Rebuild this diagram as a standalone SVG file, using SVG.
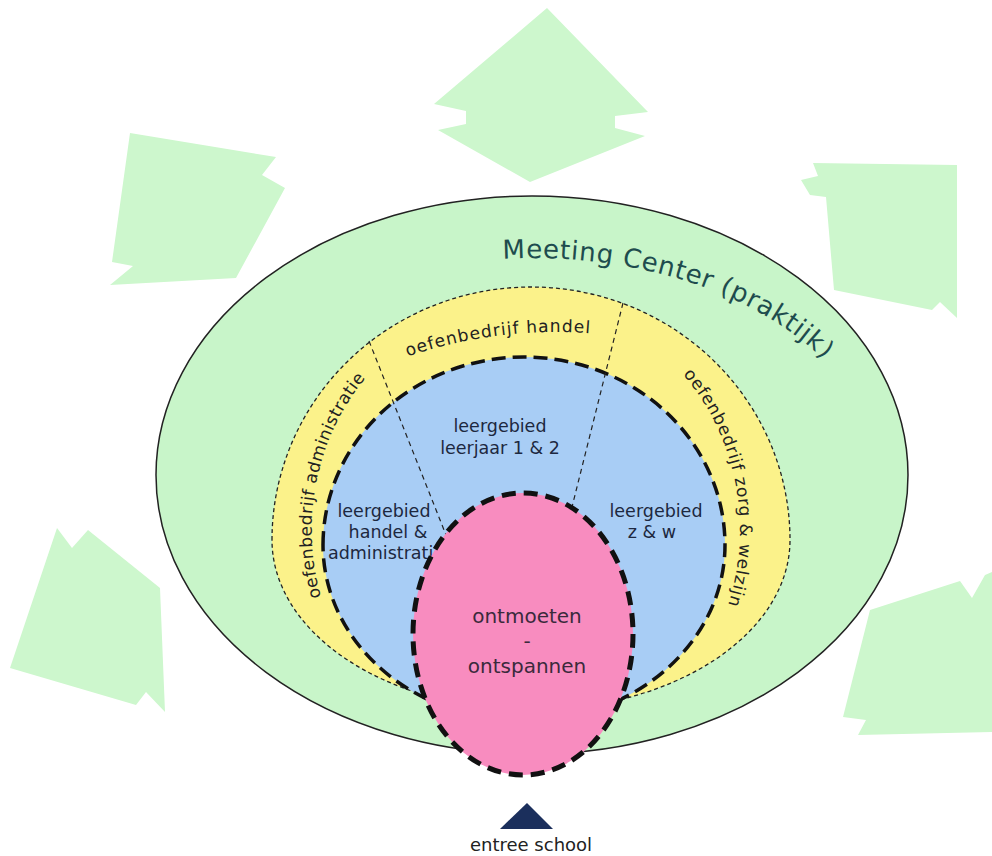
<svg xmlns="http://www.w3.org/2000/svg" width="992" height="856" viewBox="0 0 992 856">
<style>
.deco{fill:#cdf7cd;stroke:none}
.t{font-family:"DejaVu Sans","Liberation Sans",sans-serif;fill:#1d2840;text-anchor:middle}
.lbl{font-size:17.5px}
.band{font-size:17px;fill:#222}
.title{font-family:"DejaVu Sans","Liberation Sans",sans-serif;font-size:26px;fill:#1e4c4e}
.div{stroke:#222;stroke-width:1.2;stroke-dasharray:5 4;fill:none}
</style>
<defs>
<path id="pTitle" d="M 503 258.8 A 345 219 0 0 1 877 477"/>
<path id="pTop" d="M 330 391.4 A 456 456 0 0 1 780 391.4"/>
<path id="pLeft" d="M 321 597 A 214 229 0 0 1 526 301"/>
<path id="pRight" d="M 683 374.5 A 214 229 0 0 1 526 759"/>
</defs>
<rect width="992" height="856" fill="#ffffff"/>
<g id="decorations">
<polygon class="deco" points="547,8 648,112 615,116 615,128 645,136 530,182 438,130 466,124 466,111 434,104"/>
<polygon class="deco" points="130,133 276,157 262,175 285,188 236,278 110,285 133,266 112,262"/>
<polygon class="deco" points="818,176 813,163 957,165 957,318 940,302 932,310 834,290 826,197 810,195 801,180"/>
<polygon class="deco" points="57,528 72,548 88,530 160,588 165,712 146,692 136,705 10,668"/>
<polygon class="deco" points="870,610 960,581 972,598 985,575 992,572 992,732 858,735 866,720 843,717"/>
</g>
<g id="meeting-center">
<ellipse cx="532" cy="475" rx="376" ry="279" fill="#c8f5c9" stroke="#222" stroke-width="1.5"/>
<text class="title"><textPath href="#pTitle" textLength="345" lengthAdjust="spacing">Meeting Center (praktijk)</textPath></text>
</g>
<g id="oefenbedrijven">
<path d="M 272 540 A 259 253 0 0 1 790 540 A 259 170 0 0 1 531 710 A 259 170 0 0 1 272 540 Z" fill="#fbf28a" stroke="#222" stroke-width="1.3" stroke-dasharray="4 3"/>
</g>
<g id="leergebieden">
<path d="M 323 545 A 201 188 0 0 1 725 545 A 201 176 0 0 1 524 721 A 201 176 0 0 1 323 545 Z" fill="#a8cdf5" stroke="#111" stroke-width="3.5" stroke-dasharray="14 7"/>
</g>
<g id="connectors">
<line class="div" x1="369" y1="341" x2="448" y2="540"/>
<line class="div" x1="623" y1="303" x2="570" y2="515"/>
</g>
<g id="band-labels">
<text class="t band" style="text-anchor:start"><textPath href="#pTop" startOffset="85" textLength="185" lengthAdjust="spacing">oefenbedrijf handel</textPath></text>
<text class="t band" style="text-anchor:start"><textPath href="#pLeft" textLength="232" lengthAdjust="spacing">oefenbedrijf administratie</textPath></text>
<text class="t band" style="text-anchor:start"><textPath href="#pRight" textLength="245" lengthAdjust="spacing">oefenbedrijf zorg &amp; welzijn</textPath></text>
</g>
<g id="leergebied-jaar">
<text class="t lbl" x="500" y="432">leergebied</text>
<text class="t lbl" x="500" y="454">leerjaar 1 &amp; 2</text>
</g>
<g id="leergebied-handel">
<text class="t lbl" x="384" y="517">leergebied</text>
<text class="t lbl" x="388" y="538">handel &amp;</text>
<text class="t lbl" x="386" y="559">administratie</text>
</g>
<g id="leergebied-zw">
<text class="t lbl" x="656" y="517">leergebied</text>
<text class="t lbl" x="652" y="538">z &amp; w</text>
</g>
<g id="ontmoeten">
<ellipse cx="523" cy="634" rx="110" ry="141" fill="#f88cbf" stroke="#111" stroke-width="5" stroke-dasharray="14 8"/>
<text class="t" style="font-size:20px;fill:#3b2a3c" x="527" y="623">ontmoeten</text>
<text class="t" style="font-size:20px;fill:#3b2a3c" x="527" y="648">-</text>
<text class="t" style="font-size:20px;fill:#3b2a3c" x="527" y="673">ontspannen</text>
</g>
<g id="entree">
<polygon points="527,803 553,829 500,829" fill="#1b2f5c"/>
<text class="t" style="font-size:18px;fill:#222" x="531" y="851">entree school</text>
</g>
</svg>
